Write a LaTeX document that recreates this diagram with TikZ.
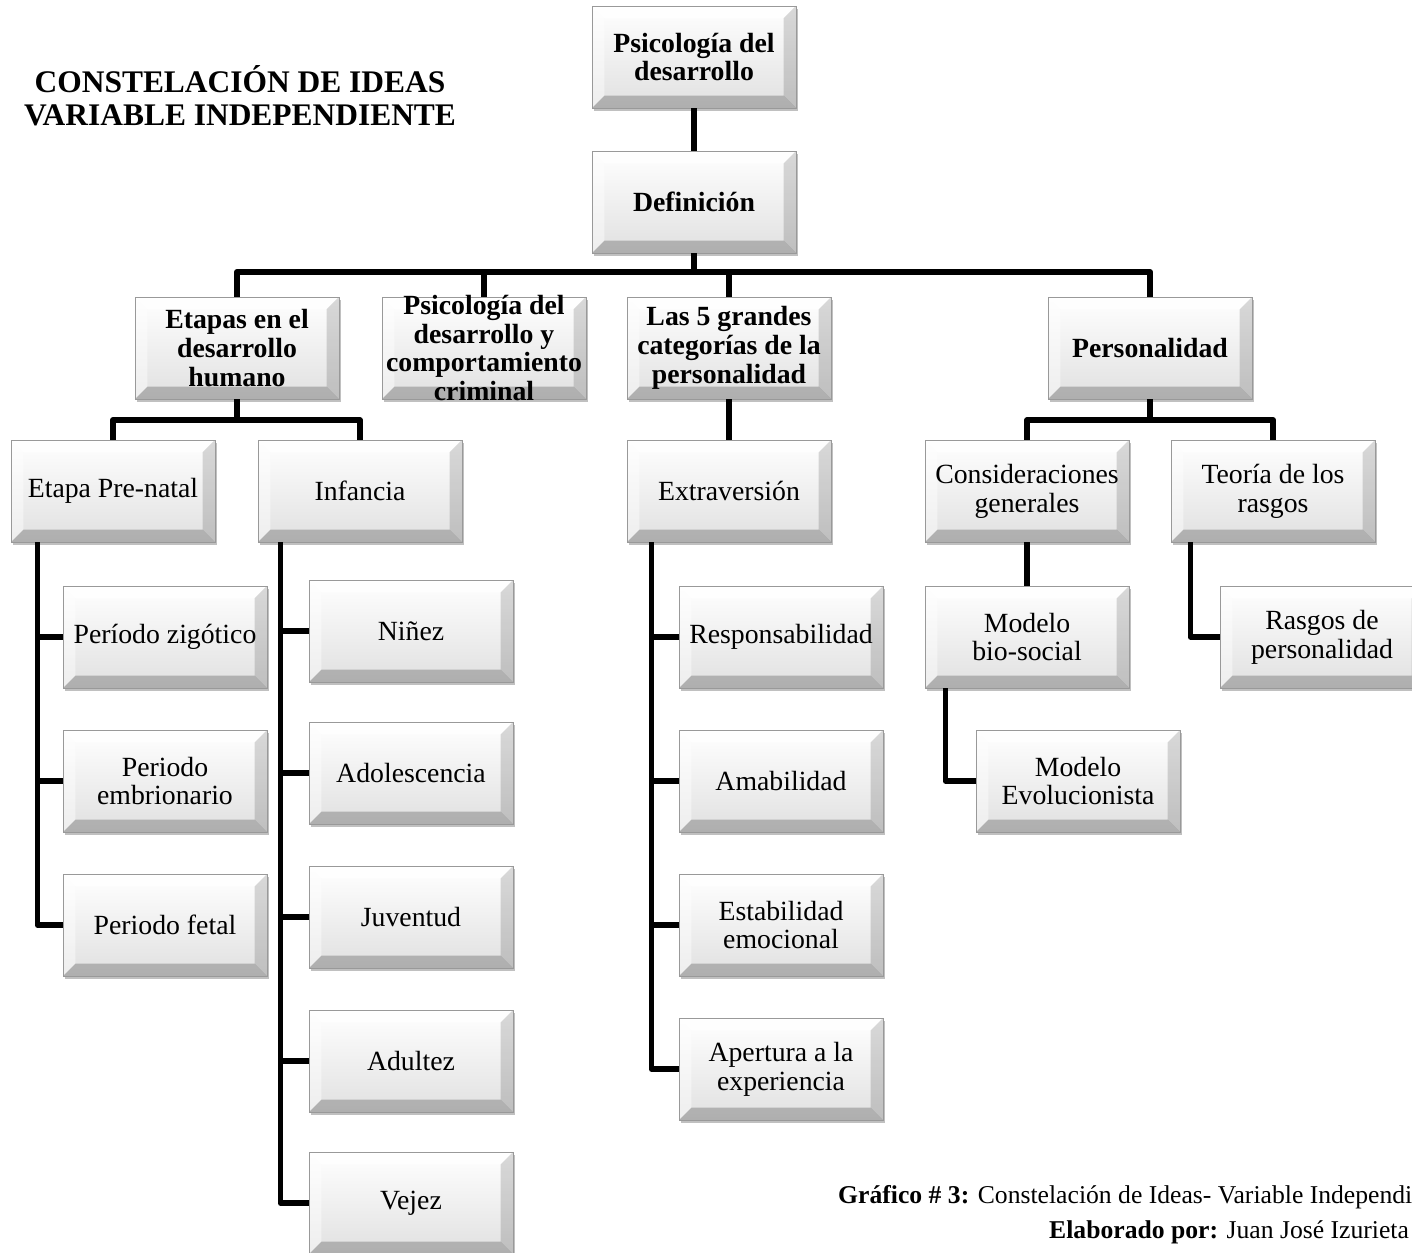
\documentclass[tikz,border=0pt]{standalone}
\usepackage{fontspec}
\setmainfont{Liberation Serif}
\usetikzlibrary{shadows}

\tikzset{
  bevel/.style={draw=black!40, line width=0.5pt, top color=white, bottom color=black!12,
    minimum width=4.08cm, minimum height=2.04cm, align=center, inner sep=1pt,
    font=\fontsize{15.8}{16.4}\selectfont,
    drop shadow={shadow xshift=1.3pt, shadow yshift=-1.6pt, fill=black!45, opacity=0.55},
    path picture={
      \coordinate (bnw) at (path picture bounding box.north west);
      \coordinate (bne) at (path picture bounding box.north east);
      \coordinate (bsw) at (path picture bounding box.south west);
      \coordinate (bse) at (path picture bounding box.south east);
      \fill[white, opacity=0.85] (bnw) -- (bne) -- ([shift={(-7pt,-7pt)}]bne) -- ([shift={(7pt,-7pt)}]bnw) -- cycle;
      \fill[white, opacity=0.45] (bnw) -- ([shift={(7pt,-7pt)}]bnw) -- ([shift={(7pt,7pt)}]bsw) -- (bsw) -- cycle;
      \fill[black, opacity=0.15] (bne) -- (bse) -- ([shift={(-7pt,7pt)}]bse) -- ([shift={(-7pt,-7pt)}]bne) -- cycle;
      \fill[black, opacity=0.22] (bsw) -- ([shift={(7pt,7pt)}]bsw) -- ([shift={(-7pt,7pt)}]bse) -- (bse) -- cycle;
    }},
  headbox/.style={bevel, font=\fontsize{15.8}{16.4}\selectfont\bfseries},
  link/.style={line width=3.3pt, line join=round},
}

\begin{document}
\begin{tikzpicture}[x=0.02cm, y=-0.02cm]
  \useasboundingbox (0,0) rectangle (1412,1253);
  \clip (0,0) rectangle (1412,1253);

  \node[align=center, font=\fontsize{17.9}{18.7}\selectfont\bfseries] (title) at (240,96) {CONSTELACIÓN DE IDEAS\\VARIABLE INDEPENDIENTE};

  \node[headbox] (psico) at (694,57) {Psicología del\\desarrollo};
  \node[headbox] (def) at (694,202) {Definición};

  \node[headbox] (etapas) at (237,348) {Etapas en el\\desarrollo\\humano};
  \node[headbox] (crim) at (484,348) {};
  \node[align=center, font=\fontsize{15.8}{16.4}\selectfont\bfseries] (crimtext) at (crim) {Psicología del\\desarrollo y\\comportamiento\\criminal};
  \node[headbox] (cinco) at (729,348) {Las 5 grandes\\categorías de la\\personalidad};
  \node[headbox] (pers) at (1150,348) {Personalidad};

  \node[bevel] (prenatal) at (113,491) {Etapa Pre-natal};
  \node[bevel] (infancia) at (360,491) {Infancia};
  \node[bevel] (extra) at (729,491) {Extraversión};
  \node[bevel] (consid) at (1027,491) {Consideraciones\\generales};
  \node[bevel] (teoria) at (1273,491) {Teoría de los\\rasgos};

  \node[bevel] (zig) at (165,637) {Período zigótico};
  \node[bevel] (embr) at (165,781) {Periodo\\embrionario};
  \node[bevel] (fetal) at (165,925) {Periodo fetal};

  \node[bevel] (ninez) at (411,631) {Niñez};
  \node[bevel] (adol) at (411,773) {Adolescencia};
  \node[bevel] (juv) at (411,917) {Juventud};
  \node[bevel] (adult) at (411,1061) {Adultez};
  \node[bevel] (vejez) at (411,1203) {Vejez};

  \node[bevel] (resp) at (781,637) {Responsabilidad};
  \node[bevel] (amab) at (781,781) {Amabilidad};
  \node[bevel] (estab) at (781,925) {Estabilidad\\emocional};
  \node[bevel] (apert) at (781,1069) {Apertura a la\\experiencia};

  \node[bevel] (biosoc) at (1027,637) {Modelo\\bio-social};
  \node[bevel] (evol) at (1078,781) {Modelo\\Evolucionista};
  \node[bevel] (rasgos) at (1322,637) {Rasgos de\\personalidad};

  \coordinate (bus) at (694,272);
  \coordinate (etj) at (237,420);
  \coordinate (persj) at (1150,420);

  \draw[link] (psico) -- (def);
  \draw[link] (def) -- (bus);
  \draw[link] (etapas) |- (bus) -| (pers);
  \draw[link] (crim) -- (crim |- bus);
  \draw[link] (cinco) -- (cinco |- bus);

  \draw[link] (etapas) -- (etj);
  \draw[link] (prenatal) |- (etj) -| (infancia);
  \draw[link] (pers) -- (persj);
  \draw[link] (consid) |- (persj) -| (teoria);
  \draw[link] (cinco) -- (extra);
  \draw[link] (consid) -- (biosoc);

  \foreach \n in {zig,embr,fetal}
    \draw[link] ([xshift=0.54cm]prenatal.south west) |- (\n);
  \foreach \n in {ninez,adol,juv,adult,vejez}
    \draw[link] ([xshift=0.46cm]infancia.south west) |- (\n);
  \foreach \n in {resp,amab,estab,apert}
    \draw[link] ([xshift=0.5cm]extra.south west) |- (\n);
  \draw[link] ([xshift=0.42cm]biosoc.south west) |- (evol);
  \draw[link] ([xshift=0.4cm]teoria.south west) |- (rasgos);

  \node[anchor=west, font=\fontsize{14.6}{17}\selectfont] (cap) at (832,1197) {\textbf{Gráfico \# 3:} Constelación de Ideas- Variable Independiente};
  \node[anchor=west, font=\fontsize{14.6}{17}\selectfont] (autor) at (1043,1232) {\textbf{Elaborado por:} Juan José Izurieta};
\end{tikzpicture}
\end{document}
